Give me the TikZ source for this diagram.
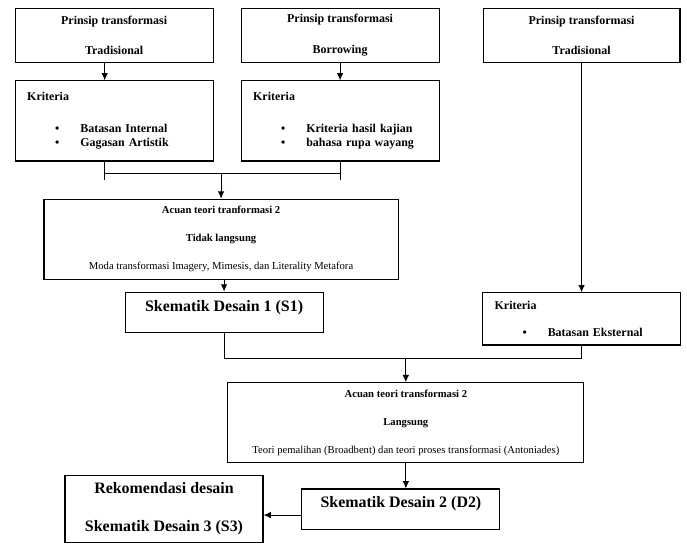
\documentclass[tikz,border=0pt]{standalone}
\usepackage{fontspec}
\setmainfont{Liberation Serif}
\usetikzlibrary{arrows.meta}

\newcommand{\butir}[1]{\hspace*{21pt}\makebox[19pt][l]{\textbullet}#1}

\begin{document}
\begin{tikzpicture}[
	kotak/.style={shape=rectangle,draw=black,minimum width=5.24cm,minimum height=1.43cm,align=center,font=\bfseries\fontsize{9}{11}\selectfont},
	kriteria/.style={kotak,align=left,text width=4.6cm,inner xsep=9pt,minimum height=2.12cm},
	acuan/.style={kotak,minimum width=9.37cm,minimum height=2.12cm,font=\fontsize{8}{9.5}\selectfont},
	skema/.style={kotak,font=\bfseries\fontsize{12}{14.5}\selectfont},
	>={Latex[length=5.5pt,width=5pt]}, line width=0.8pt]
	\useasboundingbox (0,0) rectangle (18.18,14.37);

	\node[kotak] (a) at (3.02, 13.44)     {Prinsip transformasi\\[12pt]Tradisional};
	\node[kotak] (b) at (9.00, 13.44)     {Prinsip transformasi\\[12pt]Borrowing};
	\node[kotak,minimum width=5.21cm] (c) at (15.39, 13.44)     {Prinsip transformasi\\[12pt]Tradisional};
	\node[kriteria] (ka) at (3.02, 11.17)     {Kriteria\\[13pt]\butir{Batasan Internal}\\\butir{Gagasan Artistik}};
	\node[kriteria] (kb) at (9.00, 11.17)     {Kriteria\\[13pt]\butir{Kriteria hasil kajian}\\\butir{bahasa rupa wayang}};
	\node[kriteria,minimum height=1.38cm] (kc) at (15.39, 5.93)     {Kriteria\\[9pt]\butir{Batasan Eksternal}};
	\node[acuan] (t1) at (5.85, 8.04)     {\textbf{Acuan teori tranformasi 2}\\[11.5pt]\textbf{Tidak langsung}\\[11.5pt]Moda transformasi Imagery, Mimesis, dan Literality Metafora};
	\node[skema,minimum height=1.06cm,text depth=10pt] (s1) at (5.93, 6.11)     {Skematik Desain 1 (S1)};
	\node[acuan,minimum width=9.42cm] (t2) at (10.74, 3.18)     {\textbf{Acuan teori transformasi 2}\\[11.5pt]\textbf{Langsung}\\[11.5pt]Teori pemalihan (Broadbent) dan teori proses transformasi (Antoniades)};
	\node[skema,minimum height=1.06cm,text depth=10pt] (d2) at (10.61, 0.90)     {Skematik Desain 2 (D2)};
	\node[skema,minimum height=1.75cm] (r) at (4.34, 0.90)     {Rekomendasi desain\\[14pt]Skematik Desain 3 (S3)};

	\coordinate (ja) at ([xshift=-0.25cm,yshift=-0.32cm]ka.south);
	\coordinate (jb) at ([yshift=-0.32cm]kb.south);
	\coordinate (m) at ([yshift=-0.69cm]s1.south);

	\path[->] ([xshift=-0.25cm]a.south) edge ([xshift=-0.25cm]ka.north);
	\path[->] (b) edge (kb);
	\path[->] (c) edge (kc);
	\draw ([xshift=-0.25cm]ka.south) -- ++(0,-0.5);
	\draw (kb.south) -- ++(0,-0.5);
	\draw (ja) -- (jb);
	\path[->] (t1.north |- ja) edge (t1.north);
	\path[->] (s1.north |- t1.south) edge (s1.north);
	\draw (s1.south) -- (m) -| (kc.south);
	\path[->] (t2.north |- m) edge (t2.north);
	\path[->] (t2.south) edge (t2.south |- d2.north);
	\path[->] ([yshift=-0.16cm]d2.west) edge ([yshift=-0.16cm]r.east);

\end{tikzpicture}
\end{document}
